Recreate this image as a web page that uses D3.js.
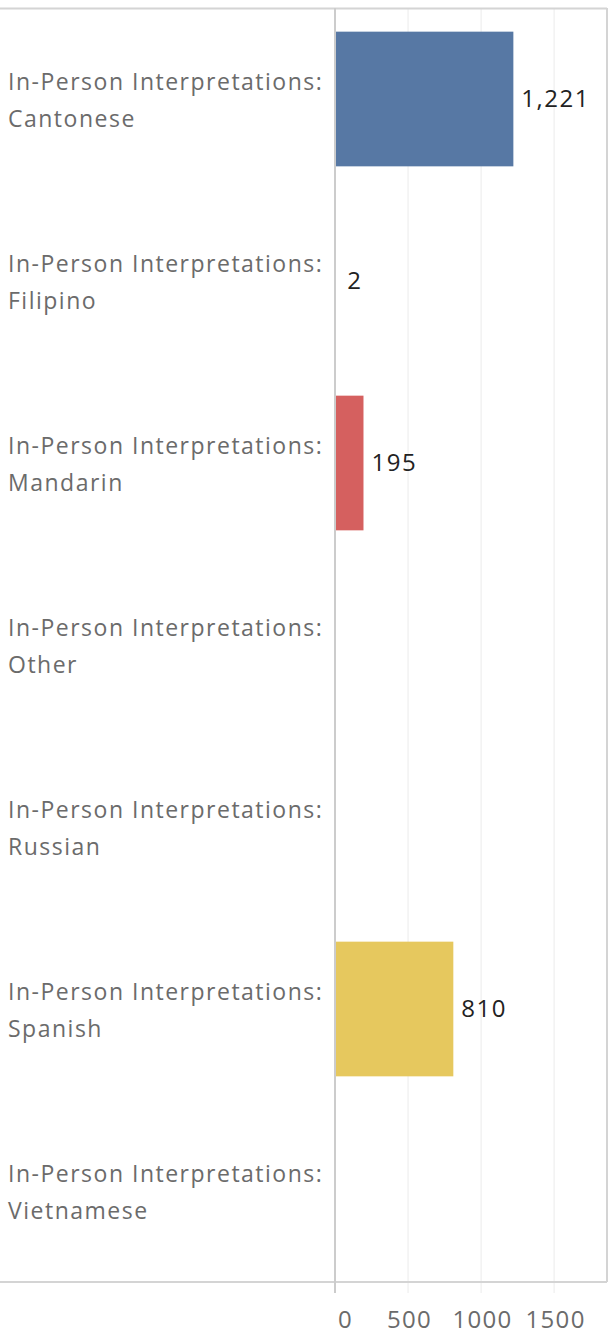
<!DOCTYPE html>
<html>
<head>
<meta charset="utf-8">
<script src="https://cdn.jsdelivr.net/npm/d3@7"></script>
<style>
  html, body { margin: 0; padding: 0; background: #fff; }
  svg { display: block; }
</style>
</head>
<body>
<svg id="chart" width="613" height="1340"></svg>
<script>
const categories = ["Cantonese", "Filipino", "Mandarin", "Other", "Russian", "Spanish", "Vietnamese"];
const labelPrefix = "In-Person Interpretations:";
const values = [1221, 2, 195, null, null, 810, null];
const colors = ["#5778a4", "#f28e2b", "#d5605f", "#76b7b2", "#59a14f", "#e6c85e", "#af7aa1"];
const tickValues = [0, 500, 1000, 1500];

const svg = d3.select("#chart");
const frame = { left: 335, right: 607, top: 8, bottom: 1282 };
const FONT = "'Open Sans', sans-serif";

const x = d3.scaleLinear().domain([0, 1862]).range([frame.left, frame.right]);
const y = d3.scaleBand().domain(categories).range([frame.top, frame.bottom]).paddingInner(0.26).paddingOuter(0.13);
const yRow = d3.scaleBand().domain(categories).range([frame.top, frame.bottom]);

// gridlines
svg.append("g").selectAll("line").data(tickValues.slice(1)).join("line")
  .attr("x1", d => x(d)).attr("x2", d => x(d))
  .attr("y1", frame.top).attr("y2", frame.bottom + 11)
  .attr("stroke", "#ebebeb").attr("stroke-width", 1);

// frame lines
svg.append("line").attr("x1", 0).attr("x2", frame.right).attr("y1", frame.top + 0.5).attr("y2", frame.top + 0.5)
  .attr("stroke", "#d4d4d4").attr("stroke-width", 2);
svg.append("line").attr("x1", 0).attr("x2", frame.right).attr("y1", frame.bottom).attr("y2", frame.bottom)
  .attr("stroke", "#d4d4d4").attr("stroke-width", 2);
svg.append("line").attr("x1", frame.right).attr("x2", frame.right).attr("y1", frame.top).attr("y2", frame.bottom)
  .attr("stroke", "#d4d4d4").attr("stroke-width", 2);

// bars
const data = categories.map((c, i) => ({ c, v: values[i], color: colors[i] }));
svg.append("g").selectAll("rect").data(data.filter(d => d.v != null)).join("rect")
  .attr("x", x(0))
  .attr("y", d => y(d.c))
  .attr("width", d => x(d.v) - x(0))
  .attr("height", y.bandwidth())
  .attr("fill", d => d.color);

// zero line
svg.append("line").attr("x1", x(0)).attr("x2", x(0)).attr("y1", frame.top).attr("y2", frame.bottom + 11)
  .attr("stroke", "#cccccc").attr("stroke-width", 2);

// value labels
svg.append("g").selectAll("text").data(data.filter(d => d.v != null)).join("text")
  .attr("x", d => x(d.v) + (d.v < 10 ? 12 : 8))
  .attr("y", d => yRow(d.c) + yRow.bandwidth() / 2)
  .attr("dy", "0.34em")
  .attr("font-family", FONT)
  .attr("font-size", 24)
  .attr("letter-spacing", "1.5px")
  .attr("fill", "#222")
  .text(d => d3.format(",")(d.v));

// category labels
const lab = svg.append("g").selectAll("text").data(categories).join("text")
  .attr("x", 8)
  .attr("y", d => yRow(d) + yRow.bandwidth() / 2)
  .attr("font-family", FONT)
  .attr("font-size", 23)
  .attr("letter-spacing", "1.5px")
  .attr("fill", "#6b6b6b");
lab.append("tspan").attr("x", 8).attr("dy", "-0.4em").text(labelPrefix);
lab.append("tspan").attr("x", 8).attr("dy", "1.62em").text(d => d);

// x axis
const axis = d3.axisBottom(x).tickValues(tickValues).tickSize(0).tickPadding(0).tickFormat(d3.format("d"));
const ax = svg.append("g").attr("transform", `translate(0, ${frame.bottom + 29})`).call(axis);
ax.select(".domain").remove();
ax.selectAll("text")
  .attr("font-family", FONT)
  .attr("font-size", 24)
  .attr("letter-spacing", "1.3px")
  .attr("fill", "#6b6b6b")
  .attr("dx", d => d === 0 ? 10 : 1);
</script>
</body>
</html>
